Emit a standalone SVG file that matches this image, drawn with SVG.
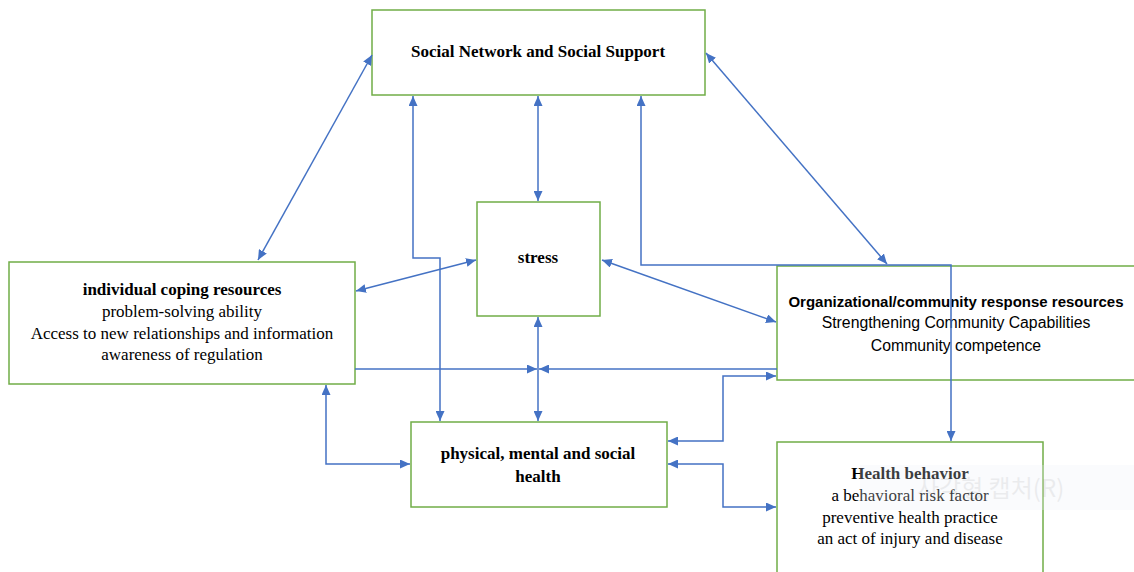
<svg xmlns="http://www.w3.org/2000/svg" width="1134" height="572" viewBox="0 0 1134 572">
<style>
.box{fill:#fff;stroke:#70AD47;stroke-width:1.5}
.c{fill:none;stroke:#4472C4;stroke-width:1.5;marker-end:url(#ah)}
.b{marker-start:url(#ah)}
.s{font-family:"Liberation Serif","Times New Roman",serif;font-size:17px;fill:#000;text-anchor:middle}
.sb{font-weight:bold}
.a{font-family:"Liberation Sans",Arial,sans-serif;font-size:15.8px;fill:#000;text-anchor:middle}
.ab{font-weight:bold;font-size:15px}
</style>
<defs>
<marker id="ah" markerUnits="userSpaceOnUse" markerWidth="11" markerHeight="9" refX="10" refY="4.5" orient="auto-start-reverse" viewBox="0 0 11 9">
<path d="M0,0 L10,4.5 L0,9 z" fill="#4472C4"/>
</marker>
</defs>
<rect width="1134" height="572" fill="#fff"/>
<g id="social">
<rect class="box" x="372" y="10" width="333" height="85"/>
<text class="s sb" x="538" y="57">Social Network and Social Support</text>
</g>
<g id="stress">
<rect class="box" x="477" y="202" width="123" height="114"/>
<text class="s sb" x="538" y="263">stress</text>
</g>
<g id="individual">
<rect class="box" x="9" y="262" width="346" height="122"/>
<text class="s sb" x="182" y="295">individual coping resources</text>
<text class="s" x="182" y="317">problem-solving ability</text>
<text class="s" x="182" y="339">Access to new relationships and information</text>
<text class="s" x="182" y="360">awareness of regulation</text>
</g>
<g id="org">
<rect class="box" x="777" y="266" width="380" height="114"/>
<text class="a ab" x="956" y="307">Organizational/community response resources</text>
<text class="a" x="956" y="328">Strengthening Community Capabilities</text>
<text class="a" x="956" y="351">Community competence</text>
</g>
<g id="physical">
<rect class="box" x="411" y="422" width="256" height="85"/>
<text class="s sb" x="538" y="459">physical, mental and social</text>
<text class="s sb" x="538" y="482">health</text>
</g>
<g id="health">
<rect class="box" x="777" y="442" width="266" height="150"/>
<text class="s sb" x="910" y="479">Health behavior</text>
<text class="s" x="910" y="501">a behavioral risk factor</text>
<text class="s" x="910" y="523">preventive health practice</text>
<text class="s" x="910" y="544">an act of injury and disease</text>
</g>
<g id="connectors">
<line class="c b" x1="258" y1="260" x2="372" y2="55"/>
<line class="c b" x1="706" y1="53" x2="887" y2="264"/>
<line class="c b" x1="538" y1="96" x2="538" y2="201"/>
<path class="c b" d="M413,96 V258 H440 V421"/>
<path class="c b" d="M641,96 V265 H951 V441"/>
<line class="c b" x1="356" y1="291" x2="476" y2="260"/>
<line class="c b" x1="602" y1="260" x2="776" y2="322"/>
<line class="c b" x1="538" y1="317" x2="538" y2="421"/>
<line class="c" x1="355" y1="369" x2="537" y2="369"/>
<line class="c" x1="777" y1="369" x2="539" y2="369"/>
<path class="c b" d="M668,441 H723 V376 H776"/>
<path class="c b" d="M668,464 H723 V507 H776"/>
<path class="c b" d="M326,385 V464 H410"/>
</g>
<g id="overlay" opacity="0.5">
<rect x="860" y="465" width="274" height="45" fill="#eef2f9" opacity="0.5"/>
<text x="917" y="497" font-family="'Noto Sans CJK KR','Liberation Sans',sans-serif" font-size="24" fill="#000" opacity="0.12">사각형 캡처(R)</text>
</g>
</svg>
